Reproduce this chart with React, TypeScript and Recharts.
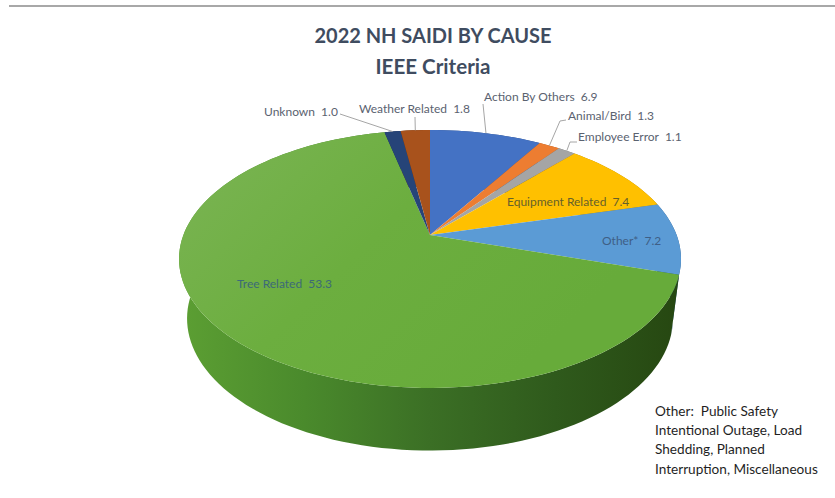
import { Pie, PieChart } from "recharts"

const causes = [
  "Action By Others",
  "Animal/Bird",
  "Employee Error",
  "Equipment Related",
  "Other*",
  "Tree Related",
  "Unknown",
  "Weather Related",
]
const saidi = [6.9, 1.3, 1.1, 7.4, 7.2, 53.3, 1.0, 1.8]
const palette = ["#4472c4", "#ed7d31", "#a5a5a5", "#ffc000", "#5b9bd5", "#6cae3f", "#264478", "#a8521c"]
const wallColors = ["#2d4c84", "#a3551f", "#6f6f6f", "#ad8200", "#2a5a8c", "url(#wallGreen)", "#182c50", "#6b3009"]

const titleLines = ["2022 NH SAIDI BY CAUSE", "IEEE Criteria"]
const titleWidths = [237, 115]
const noteLines = [
  "Other:  Public Safety",
  "Intentional Outage, Load",
  "Shedding, Planned",
  "Interruption, Miscellaneous",
]

const pieData = causes.map((name, i) => ({ name, value: saidi[i], fill: palette[i], wall: wallColors[i] }))

// the pie is tilted away from the viewer, so the rim is a perspective projection of a circle
const TILT = 0.186
const topFace = { cx: 430, cy: 235, a: 246.6, b: 124.5 }
const bottomFace = { cx: 430, cy: 294, a: 238.7, b: 127.4 }

type Face = typeof topFace

function project(face: Face, angle: number, r = 1) {
  const rad = (angle * Math.PI) / 180
  const u = r * Math.cos(rad)
  const v = -r * Math.sin(rad)
  const w = 1 - TILT * v
  return [face.cx + (face.a * u) / w, face.cy + (face.b * v) / w]
}

function rimPoints(face: Face, start: number, end: number) {
  const steps = Math.max(2, Math.ceil(Math.abs(end - start) / 2))
  const pts = []
  for (let i = 0; i <= steps; i++) pts.push(project(face, start + ((end - start) * i) / steps))
  return pts
}

const toPath = (pts: number[][]) =>
  "M" + pts.map((p) => `${p[0].toFixed(2)},${p[1].toFixed(2)}`).join("L") + "Z"

function TopSector(props: any) {
  const rim = rimPoints(topFace, props.startAngle, props.endAngle)
  const isTree = props.name === "Tree Related"
  const d = toPath([[topFace.cx, topFace.cy], ...rim])
  return <path d={d} fill={isTree ? "url(#topGreen)" : props.fill} stroke="none" />
}

function WallSector(props: any) {
  const upper = rimPoints(topFace, props.startAngle, props.endAngle)
  const lower = rimPoints(bottomFace, props.startAngle, props.endAngle).reverse()
  return <path d={toPath([...upper, ...lower])} fill={props.wall} stroke="none" />
}

const labelStyles = [
  { x: 484, y: 101, color: "#5a6270", leader: [[483, 104]] },
  { x: 568, y: 120, color: "#5a6270", leader: [[566, 120], [560, 121]] },
  { x: 578, y: 141, color: "#5a6270", leader: [[577, 142], [570, 142]] },
  { x: 507, y: 206, color: "#66602a", leader: [] },
  { x: 602, y: 245, color: "#3f5f86", leader: [] },
  { x: 237, y: 288, color: "#3c6a78", leader: [] },
  { x: 264, y: 116, color: "#5a6270", leader: [[340, 114]] },
  { x: 359, y: 113, color: "#5a6270", leader: [[415, 117]] },
]

function SliceLabel(props: any) {
  const style = labelStyles[props.index]
  const mid = (props.startAngle + props.endAngle) / 2
  const tip = project(topFace, mid)
  return (
    <g>
      {style.leader.length > 0 && (
        <polyline
          points={[...style.leader, tip].map((p) => p.join(",")).join(" ")}
          fill="none"
          stroke="#a6a6a6"
          strokeWidth={1}
        />
      )}
      <text
        x={style.x}
        y={style.y}
        fill={style.color}
        fontFamily="Lato"
        fontSize={12}
        style={{ whiteSpace: "pre" }}
      >
        {`${causes[props.index]}  ${saidi[props.index].toFixed(1)}`}
      </text>
    </g>
  )
}

export default function App() {
  return (
    <div style={{ position: "absolute", left: 0, top: 0, width: 835, height: 498, background: "#fff" }}>
      <PieChart width={835} height={498} style={{ position: "absolute", left: 0, top: 0 }}>
        <defs>
          <linearGradient id="wallGreen" gradientUnits="userSpaceOnUse" x1="180" y1="0" x2="680" y2="0">
            <stop offset="0%" stopColor="#5c9f33" />
            <stop offset="25%" stopColor="#4a8a2c" />
            <stop offset="50%" stopColor="#3b6f25" />
            <stop offset="75%" stopColor="#2f5a1c" />
            <stop offset="100%" stopColor="#264711" />
          </linearGradient>
          <linearGradient id="topGreen" gradientUnits="userSpaceOnUse" x1="250" y1="130" x2="500" y2="390">
            <stop offset="0%" stopColor="#78b350" />
            <stop offset="45%" stopColor="#6cae3f" />
            <stop offset="100%" stopColor="#67ab3a" />
          </linearGradient>
        </defs>
        <Pie
          data={pieData}
          dataKey="value"
          nameKey="name"
          cx={430}
          cy={235}
          outerRadius={200}
          startAngle={90}
          endAngle={-270}
          stroke="none"
          shape={WallSector}
          isAnimationActive={false}
        />
        <Pie
          data={pieData}
          dataKey="value"
          nameKey="name"
          cx={430}
          cy={235}
          outerRadius={200}
          startAngle={90}
          endAngle={-270}
          stroke="none"
          shape={TopSector}
          label={SliceLabel}
          labelLine={false}
          isAnimationActive={false}
        />
        {titleLines.map((line, i) => (
          <text
            key={line}
            x={433}
            y={43 + i * 31}
            textAnchor="middle"
            fill="#3f4c60"
            fontFamily="Lato"
            fontWeight={700}
            fontSize={21}
            textLength={titleWidths[i]}
            lengthAdjust="spacingAndGlyphs"
          >
            {line}
          </text>
        ))}
        {noteLines.map((line, i) => (
          <text
            key={line}
            x={655}
            y={416 + i * 19.2}
            fill="#1f1f1f"
            fontFamily="Lato"
            fontSize={13.6}
            style={{ whiteSpace: "pre" }}
          >
            {line}
          </text>
        ))}
      </PieChart>
      <div style={{ position: "absolute", left: 9, width: 826, top: 5, height: 2, background: "#a8a8a8" }} />
    </div>
  )
}
